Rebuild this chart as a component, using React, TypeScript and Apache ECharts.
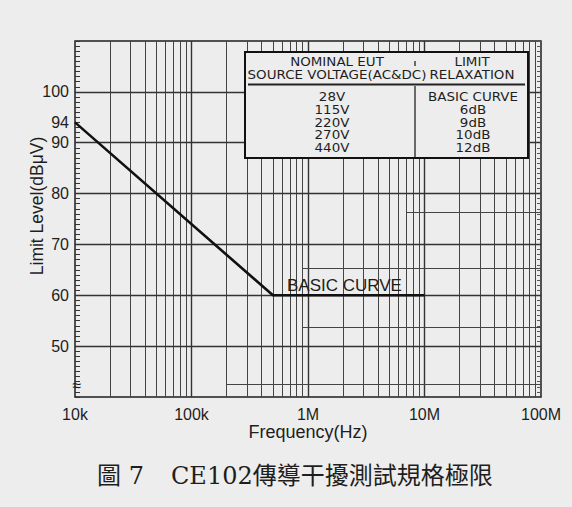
import React, { useEffect, useRef } from "react";
import * as echarts from "echarts";

// ---- data ----
const FREQ_HZ = [1e4, 5e5, 1e7];
const LIMIT_DBUV = [94, 60, 60];
const X_LABELS: Record<number, string> = { 4: "10k", 5: "100k", 6: "1M", 7: "10M", 8: "100M" };
const Y_LABELS = [50, 60, 70, 80, 90, 94, 100];
const GRID_Y = [50, 60, 70, 80, 90, 100];
const DECADES = [1e4, 1e5, 1e6, 1e7];
const MULTIPLIERS = [2, 3, 4, 5, 6, 7, 8, 9];
// partial horizontal lines of the printed grid paper: [xStart, xEnd, level]
const EXTRA_LINES = [
  [2e5, 1e8, 42.6],
  [9e5, 1e8, 53.8],
  [9e5, 1e8, 65.4],
  [7e6, 1e8, 76.4],
];
const TABLE_HEAD_LEFT = ["NOMINAL EUT", "SOURCE VOLTAGE(AC&DC)"];
const TABLE_HEAD_RIGHT = ["LIMIT", "RELAXATION"];
const VOLTAGES = ["28V", "115V", "220V", "270V", "440V"];
const RELAXATIONS = ["BASIC CURVE", "6dB", "9dB", "10dB", "12dB"];
const CURVE_LABEL = "BASIC CURVE";
const CAPTION_NO = "圖 7";
const CAPTION = "CE102傳導干擾測試規格極限";

const BG = "#ededed";
const INK = "#1e1e1e";
const SANS = "Liberation Sans, Arial, sans-serif";
const TABLE_FONT = "DejaVu Sans, sans-serif";
const TOP_Z = 100;

export default function App() {
  const ref = useRef<HTMLDivElement>(null);
  useEffect(() => {
    document.body.style.margin = "0";
    document.body.style.background = BG;
    const chart = echarts.init(ref.current!, null, { renderer: "svg" });

    const vertical: any[] = [];
    DECADES.forEach((d, i) => {
      if (i > 0) vertical.push({ xAxis: d, lineStyle: { width: 1.4, color: "#333" } });
      MULTIPLIERS.forEach((m) => vertical.push({ xAxis: d * m }));
    });
    const horizontal = GRID_Y.map((y) => ({ yAxis: y, lineStyle: { width: 1.3, color: "#333" } }));
    const extras = EXTRA_LINES.map(([x1, x2, y]) => [
      { coord: [x1, y] },
      { coord: [x2, y] },
    ]);

    const tText = (t: string, x: number, y: number) => ({
      type: "text",
      z: TOP_Z + 2,
      x,
      y,
      scaleX: 1.12,
      style: { text: t, font: `12px ${TABLE_FONT}`, fill: INK, textAlign: "center", textVerticalAlign: "middle" },
    });
    const tableTexts: any[] = [];
    TABLE_HEAD_LEFT.forEach((t, i) => tableTexts.push(tText(t, 337, 62 + i * 13)));
    TABLE_HEAD_RIGHT.forEach((t, i) => tableTexts.push(tText(t, 472, 62 + i * 13)));
    VOLTAGES.forEach((t, i) => tableTexts.push(tText(t, 332, 97 + i * 12.7)));
    RELAXATIONS.forEach((t, i) => tableTexts.push(tText(t, 473, 97 + i * 12.7)));

    const option: any = {
      animation: false,
      backgroundColor: BG,
      grid: {
        left: 75,
        right: 31,
        top: 41,
        bottom: 110,
        show: true,
        borderColor: INK,
        borderWidth: 1.5,
        backgroundColor: "transparent",
      },
      xAxis: {
        type: "log",
        logBase: 10,
        min: 1e4,
        max: 1e8,
        axisLine: { show: false },
        axisTick: { show: false },
        splitLine: { show: false },
        axisLabel: {
          fontFamily: SANS,
          fontSize: 16,
          color: INK,
          margin: 9,
          formatter: (v: number) => X_LABELS[Math.round(Math.log10(v))] || "",
        },
      },
      yAxis: [
        {
          type: "value",
          min: 40,
          max: 110,
          interval: 1,
          axisLine: { show: false },
          axisTick: { show: true, inside: true, length: 5, lineStyle: { color: "#333", width: 1 } },
          splitLine: { show: false },
          axisLabel: {
            fontFamily: SANS,
            fontSize: 16,
            color: INK,
            margin: 6,
            formatter: (v: number) =>
              Y_LABELS.includes(Math.round(v)) && Math.abs(v - Math.round(v)) < 1e-6 ? String(Math.round(v)) : "",
          },
        },
        {
          type: "value",
          position: "right",
          min: 40,
          max: 110,
          interval: 1,
          axisLine: { show: false },
          axisTick: { show: true, inside: true, length: 4, lineStyle: { color: "#555", width: 1 } },
          splitLine: { show: false },
          axisLabel: { show: false },
        },
      ],
      series: [
        {
          type: "line",
          name: "grid",
          data: [],
          silent: true,
          z: 1,
          markLine: {
            silent: true,
            symbol: "none",
            label: { show: false },
            lineStyle: { type: "solid", color: "#444", width: 1 },
            data: [...vertical, ...horizontal, ...extras],
          },
        },
        {
          type: "line",
          name: CURVE_LABEL,
          data: FREQ_HZ.map((f, i) => [f, LIMIT_DBUV[i]]),
          symbol: "none",
          lineStyle: { color: "#111", width: 2.6 },
          z: 5,
        },
      ],
      graphic: [
        {
          type: "rect",
          z: TOP_Z,
          shape: { x: 245, y: 52, width: 283, height: 106 },
          style: { fill: BG, stroke: "#111", lineWidth: 2 },
        },
        {
          type: "line",
          z: TOP_Z + 1,
          shape: { x1: 248, y1: 84.5, x2: 525, y2: 84.5 },
          style: { stroke: "#222", lineWidth: 2.2 },
        },
        {
          type: "line",
          z: TOP_Z + 1,
          shape: { x1: 415, y1: 86, x2: 415, y2: 157 },
          style: { stroke: "#222", lineWidth: 1.3 },
        },
        {
          type: "line",
          z: TOP_Z + 1,
          shape: { x1: 415, y1: 61, x2: 415, y2: 66 },
          style: { stroke: "#222", lineWidth: 1.3 },
        },
        ...tableTexts,
        {
          type: "text",
          z: TOP_Z,
          x: 287,
          y: 285,
          style: { text: CURVE_LABEL, font: `17px ${SANS}`, fill: INK, textVerticalAlign: "middle" },
        },
        {
          type: "text",
          z: TOP_Z,
          x: 77,
          y: 385,
          style: { text: "≈", font: `16px ${SANS}`, fill: INK, textAlign: "center", textVerticalAlign: "middle" },
        },
        {
          type: "text",
          z: TOP_Z,
          x: 308,
          y: 432,
          style: { text: "Frequency(Hz)", font: `18px ${SANS}`, fill: INK, textAlign: "center", textVerticalAlign: "middle" },
        },
        {
          type: "text",
          z: TOP_Z,
          x: 37,
          y: 206,
          rotation: Math.PI / 2,
          style: { text: "Limit Level(dBμV)", font: `17.5px ${SANS}`, fill: INK, textAlign: "center", textVerticalAlign: "middle" },
        },
        {
          type: "text",
          z: TOP_Z,
          x: 97,
          y: 476,
          style: { text: CAPTION_NO, font: `24px DejaVu Serif, Noto Sans CJK TC, serif`, fill: INK, textVerticalAlign: "middle" },
        },
        {
          type: "text",
          z: TOP_Z,
          x: 171,
          y: 476,
          style: { text: CAPTION, font: `24px DejaVu Serif, Noto Sans CJK TC, serif`, fill: INK, textVerticalAlign: "middle" },
        },
      ],
    };
    chart.setOption(option);
    return () => chart.dispose();
  }, []);
  return <div ref={ref} style={{ width: 572, height: 507 }} />;
}
